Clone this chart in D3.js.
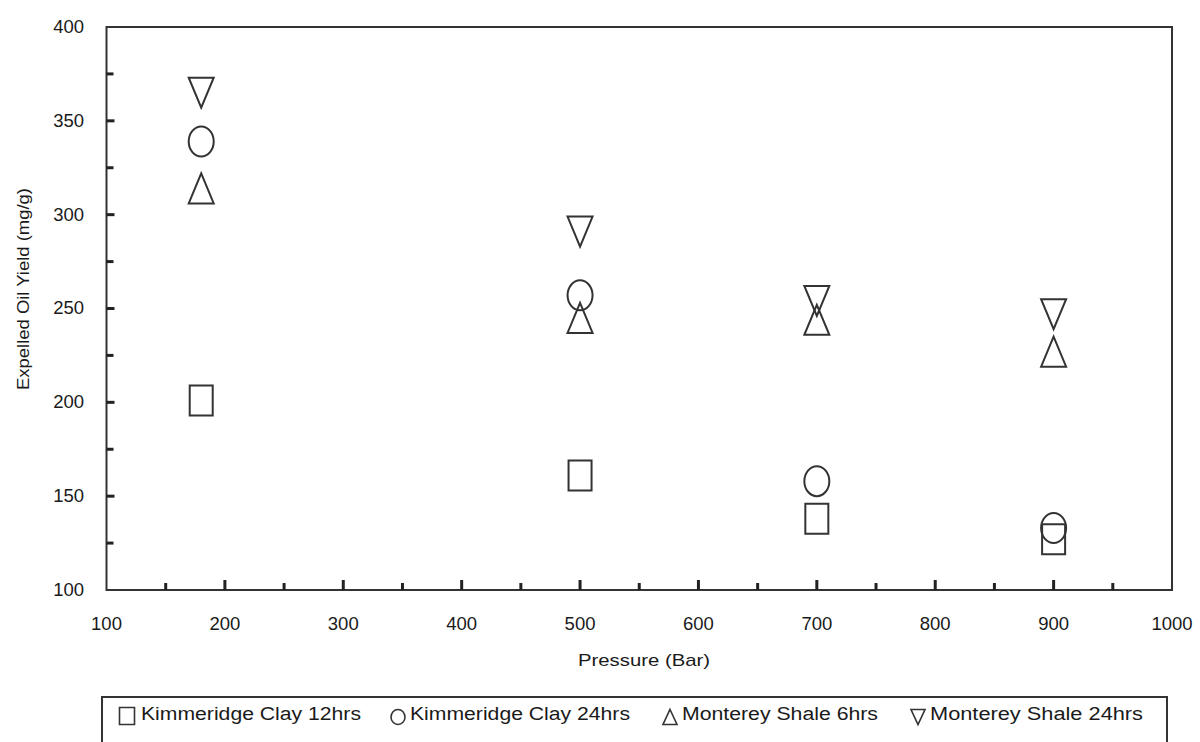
<!DOCTYPE html>
<html>
<head>
<meta charset="utf-8">
<script src="https://cdn.jsdelivr.net/npm/d3@7"></script>
<style>
  body { margin: 0; background: #fff; }
  text { font-family: "Liberation Sans", Arial, sans-serif; fill: #1a1a1a; }
</style>
</head>
<body>
<svg id="chart" width="1200" height="742"></svg>
<script>
// ---- data ----
const pressures = [180, 500, 700, 900];
const kimmeridge12 = [201, 161, 138, 127];
const kimmeridge24 = [339, 257, 158, 133];
const monterey6 = [314, 245, 244, 227];
const monterey24 = [365, 291, 254, 247];
const seriesNames = ["Kimmeridge Clay 12hrs", "Kimmeridge Clay 24hrs", "Monterey  Shale 6hrs", "Monterey  Shale 24hrs"];
const seriesShapes = ["square", "circle", "triangleUp", "triangleDown"];
const xTicks = [100, 200, 300, 400, 500, 600, 700, 800, 900, 1000];
const yTicks = [100, 150, 200, 250, 300, 350, 400];

const series = [kimmeridge12, kimmeridge24, monterey6, monterey24];

const svg = d3.select("#chart");
const mLeft = 106.5, mRight = 1172, mTop = 27, mBottom = 590;

const x = d3.scaleLinear().domain([100, 1000]).range([mLeft, mRight]);
const y = d3.scaleLinear().domain([100, 400]).range([mBottom, mTop]);

// plot frame
svg.append("rect")
  .attr("x", mLeft).attr("y", mTop)
  .attr("width", mRight - mLeft).attr("height", mBottom - mTop)
  .attr("fill", "none").attr("stroke", "#333").attr("stroke-width", 2);

// x axis ticks (inward)
const xMinor = d3.range(150, 1000, 100);
svg.append("g").selectAll("line").data(xTicks.slice(1, -1)).join("line")
  .attr("x1", d => x(d)).attr("x2", d => x(d))
  .attr("y1", mBottom).attr("y2", mBottom - 10)
  .attr("stroke", "#222").attr("stroke-width", 3);
svg.append("g").selectAll("line").data(xMinor).join("line")
  .attr("x1", d => x(d)).attr("x2", d => x(d))
  .attr("y1", mBottom).attr("y2", mBottom - 7)
  .attr("stroke", "#222").attr("stroke-width", 3);

// y axis ticks (inward)
const yMinor = d3.range(125, 400, 50);
svg.append("g").selectAll("line").data(yTicks.slice(1, -1)).join("line")
  .attr("x1", mLeft).attr("x2", mLeft + 8)
  .attr("y1", d => y(d)).attr("y2", d => y(d))
  .attr("stroke", "#222").attr("stroke-width", 3);
svg.append("g").selectAll("line").data(yMinor).join("line")
  .attr("x1", mLeft).attr("x2", mLeft + 7)
  .attr("y1", d => y(d)).attr("y2", d => y(d))
  .attr("stroke", "#222").attr("stroke-width", 3);

// tick labels
svg.append("g").selectAll("text").data(xTicks).join("text")
  .attr("x", d => x(d)).attr("y", mBottom + 40)
  .attr("text-anchor", "middle").attr("font-size", 18.5)
  .text(d => d);
svg.append("g").selectAll("text").data(yTicks).join("text")
  .attr("x", 84).attr("y", d => y(d) + 1)
  .attr("text-anchor", "end").attr("dominant-baseline", "middle").attr("font-size", 18.5)
  .text(d => d);

// axis titles
svg.append("text").attr("x", 578).attr("y", 666)
  .attr("font-size", 17)
  .attr("textLength", 132).attr("lengthAdjust", "spacingAndGlyphs")
  .text("Pressure (Bar)");
svg.append("text")
  .attr("transform", "translate(29,390) rotate(-90)")
  .attr("font-size", 16)
  .attr("textLength", 202).attr("lengthAdjust", "spacingAndGlyphs")
  .text("Expelled Oil Yield (mg/g)");

// marker path generator
function markerPath(shape, w, h) {
  const hw = w / 2, hh = h / 2;
  if (shape === "square") return `M${-hw},${-hh}H${hw}V${hh}H${-hw}Z`;
  if (shape === "circle") return `M${-hw},0A${hw},${hh} 0 1,0 ${hw},0A${hw},${hh} 0 1,0 ${-hw},0Z`;
  if (shape === "triangleUp") return `M0,${-hh}L${hw},${hh}L${-hw},${hh}Z`;
  return `M${-hw},${-hh}L${hw},${-hh}L0,${hh}Z`;
}

// points
series.forEach((vals, i) => {
  svg.append("g").selectAll("path").data(vals).join("path")
    .attr("transform", (d, j) => `translate(${x(pressures[j])},${y(d)})`)
    .attr("d", markerPath(seriesShapes[i], i === 0 ? 23 : 25, 30))
    .attr("fill", "none").attr("stroke", "#333").attr("stroke-width", 2);
});

// legend
svg.append("rect").attr("x", 102).attr("y", 697)
  .attr("width", 1065).attr("height", 60)
  .attr("fill", "#fff").attr("stroke", "#333").attr("stroke-width", 2);

const legendMarkerX = [127, 398, 670, 918];
const legendTextX = [141, 410, 682, 930];
const legendTextW = [220, 220, 196, 213];
seriesNames.forEach((name, i) => {
  svg.append("path")
    .attr("transform", `translate(${legendMarkerX[i]},${i === 0 ? 716 : 717})`)
    .attr("d", markerPath(seriesShapes[i], i === 0 ? 15 : 14, i === 0 ? 17 : 15))
    .attr("fill", "none").attr("stroke", "#333").attr("stroke-width", 1.6);
  svg.append("text")
    .attr("x", legendTextX[i]).attr("y", 720)
    .attr("font-size", 18)
    .attr("textLength", legendTextW[i]).attr("lengthAdjust", "spacingAndGlyphs")
    .text(name);
});
</script>
</body>
</html>
